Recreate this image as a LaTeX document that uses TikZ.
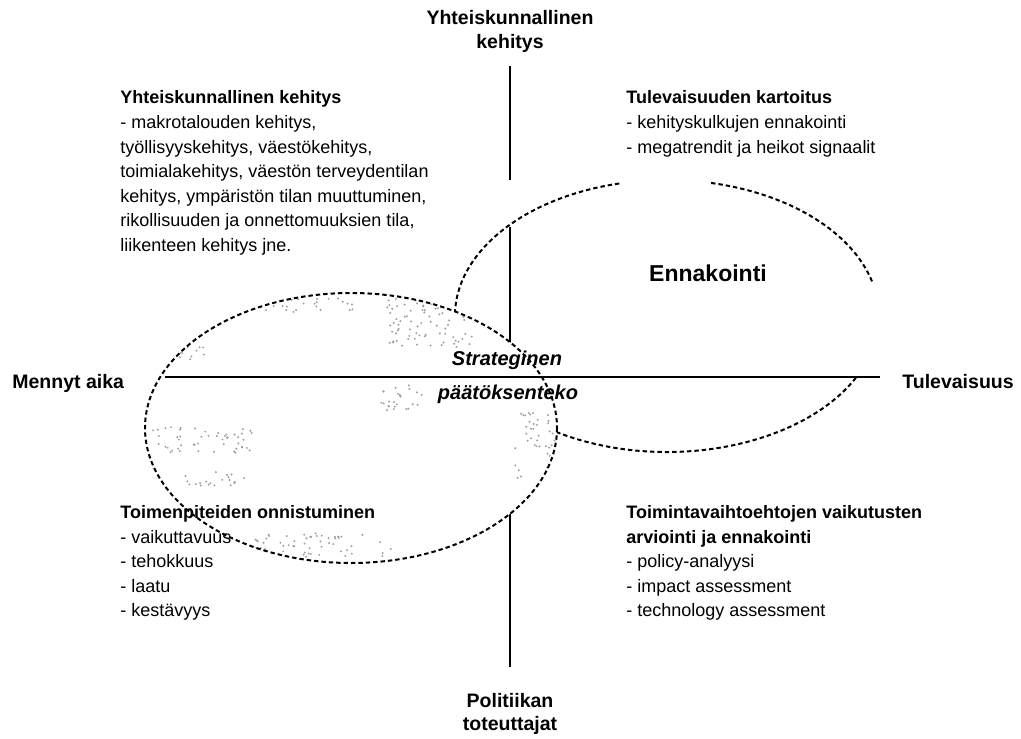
\documentclass[tikz,border=0pt]{standalone}
\usepackage{fontspec}
\setmainfont{Liberation Sans}

% scattered grey dots inside a box: x, y, width, height, count
\newcommand{\speckpatch}[5]{%
  \foreach \k in {1,...,#5}{%
    \pgfmathsetmacro{\sx}{#1+rnd*#3}%
    \pgfmathsetmacro{\sy}{#2+rnd*#4}%
    \fill[gray!75] (\sx,\sy) circle (1.1);
  }}

\begin{document}
\begin{tikzpicture}[x=0.5pt, y=-0.5pt]
 \tikzstyle{axis}=[line width=1.1pt]
 \tikzstyle{dotline}=[line width=1pt, dash pattern=on 2.2pt off 1.5pt]
 \tikzstyle{axlabel}=[inner sep=0pt, font=\fontsize{9.75}{11}\selectfont\bfseries]
 \tikzstyle{head}=[inner sep=0pt, anchor=base west, font=\fontsize{9}{11}\selectfont\bfseries]
 \tikzstyle{item}=[inner sep=0pt, anchor=base west, font=\fontsize{9}{11}\selectfont]
 \pgfmathsetseed{7}

 \useasboundingbox (0,0) rectangle (1021,738);

 % axes
 \coordinate (ytop) at (510,66);
 \coordinate (ycut) at (510,180);
 \coordinate (yres) at (510,227);
 \coordinate (ybot) at (510,667);
 \coordinate (xleft) at (165,377);
 \coordinate (xright) at (880,377);
 \draw[axis] (ytop) -- (ycut);
 \draw[axis] (yres) -- (ybot);

 % ennakointi ellipse, broken at top and right
 \coordinate (ec) at (667,316);
 \draw[dotline] (ec) ++(-78:212 and 136) arc[start angle=-78, end angle=-14.5, x radius=212, y radius=136];
 \draw[dotline] (ec) ++(27:212 and 136) arc[start angle=27, end angle=257, x radius=212, y radius=136];

 % strategic decision ellipse
 \coordinate (gc) at (351,428);
 \fill[white] (gc) ellipse [x radius=206, y radius=135];
 \begin{scope}
  \clip (gc) ellipse [x radius=206, y radius=135];
  \speckpatch{387}{298}{86}{49}{80}
  \speckpatch{380}{385}{45}{25}{25}
  \speckpatch{153}{427}{100}{26}{50}
  \speckpatch{175}{472}{75}{14}{20}
  \speckpatch{240}{533}{155}{24}{60}
  \speckpatch{515}{410}{42}{77}{40}
  \speckpatch{175}{345}{30}{15}{12}
  \speckpatch{265}{297}{88}{15}{25}
 \end{scope}
 \draw[dotline] (gc) ellipse [x radius=206, y radius=135];
 \draw[axis] (xleft) -- (xright);

 % axis labels
 \draw (510,25) node[axlabel, anchor=base] (ttop1) {Yhteiskunnallinen};
 \draw (510,49) node[axlabel, anchor=base] (ttop2) {kehitys};
 \draw (12,388) node[axlabel, anchor=base west] (tleft) {Mennyt aika};
 \draw (902,388) node[axlabel, anchor=base west] (tright) {Tulevaisuus};
 \draw (510,707) node[axlabel, anchor=base] (tbot1) {Politiikan};
 \draw (510,730) node[axlabel, anchor=base] (tbot2) {toteuttajat};

 % ellipse labels
 \draw (708,281) node[inner sep=0pt, anchor=base, font=\fontsize{11.5}{13}\selectfont\bfseries] (enn) {Ennakointi};
 \draw (507,365) node[inner sep=0pt, anchor=base, font=\fontsize{10}{12}\selectfont\bfseries\itshape] (str1) {Strateginen};
 \draw (508,399) node[inner sep=0pt, anchor=base, font=\fontsize{10}{12}\selectfont\bfseries\itshape] (str2) {päätöksenteko};

 % upper left
 \draw (120,104) node[head] (yk0) {Yhteiskunnallinen kehitys};
 \draw (120,128.5) node[item] (yk1) {- makrotalouden kehitys,};
 \draw (120,153) node[item] (yk2) {työllisyyskehitys, väestökehitys,};
 \draw (120,177.5) node[item] (yk3) {toimialakehitys, väestön terveydentilan};
 \draw (120,202) node[item] (yk4) {kehitys, ympäristön tilan muuttuminen,};
 \draw (120,226.5) node[item] (yk5) {rikollisuuden ja onnettomuuksien tila,};
 \draw (120,251) node[item] (yk6) {liikenteen kehitys jne.};

 % upper right
 \draw (626,104) node[head] (tk0) {Tulevaisuuden kartoitus};
 \draw (626,128.5) node[item] (tk1) {- kehityskulkujen ennakointi};
 \draw (626,153) node[item] (tk2) {- megatrendit ja heikot signaalit};

 % lower left
 \draw (120,518.5) node[head] (to0) {Toimenpiteiden onnistuminen};
 \draw (120,543) node[item] (to1) {- vaikuttavuus};
 \draw (120,567.5) node[item] (to2) {- tehokkuus};
 \draw (120,592) node[item] (to3) {- laatu};
 \draw (120,616.5) node[item] (to4) {- kestävyys};

 % lower right
 \draw (626,518.5) node[head] (tv0) {Toimintavaihtoehtojen vaikutusten};
 \draw (626,543) node[head] (tv1) {arviointi ja ennakointi};
 \draw (626,567.5) node[item] (tv2) {- policy-analyysi};
 \draw (626,592) node[item] (tv3) {- impact assessment};
 \draw (626,616.5) node[item] (tv4) {- technology assessment};
\end{tikzpicture}
\end{document}
